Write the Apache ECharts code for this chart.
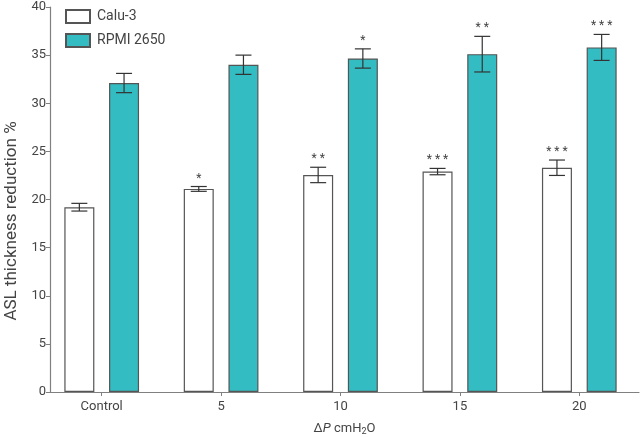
<!DOCTYPE html>
<html>
<head>
<meta charset="utf-8">
<script src="https://cdn.jsdelivr.net/npm/echarts@6/dist/echarts.min.js"></script>
<style>
  html, body { margin: 0; padding: 0; background: #fff; }
  #chart { width: 640px; height: 437px; }
</style>
</head>
<body>
<div id="chart"></div>
<script>
// data
const categories = ["Control", "5", "10", "15", "20"];
const caluValues = [19.2, 21.1, 22.55, 22.9, 23.3];
const caluErrors = [0.4, 0.25, 0.8, 0.33, 0.8];
const caluStars = ["", "*", "**", "***", "***"];
const rpmiValues = [32.1, 34.0, 34.65, 35.1, 35.8];
const rpmiErrors = [1.0, 1.0, 1.0, 1.85, 1.35];
const rpmiStars = ["", "", "*", "**", "***"];
const yTicks = [0, 5, 10, 15, 20, 25, 30, 35, 40];

const FONT = "Roboto";
const BAR_W = 30;      // px
const BAR_GAP = 0.49;  // gap between the two bars, share of bar width

const idx = categories.map((c, i) => i);

// error bars + significance stars, side = -1 (Calu-3) or +1 (RPMI)
function errorSeries(values, errors, stars, side) {
  return {
    type: "custom",
    z: 5,
    data: values.map((v, i) => [i, v, errors[i], stars[i]]),
    encode: { x: 0, y: 1 },
    renderItem: (params, api) => {
      const i = api.value(0);
      const v = api.value(1);
      const e = api.value(2);
      const off = side * (BAR_W + BAR_W * BAR_GAP) / 2;
      const hi = api.coord([i, v + e]);
      const lo = api.coord([i, v - e]);
      const x = hi[0] + off;
      const cap = 8;
      const st = { stroke: "#333", lineWidth: 1.2 };
      const kids = [
        { type: "line", shape: { x1: x, y1: hi[1], x2: x, y2: lo[1] }, style: st },
        { type: "line", shape: { x1: x - cap, y1: hi[1], x2: x + cap, y2: hi[1] }, style: st },
        { type: "line", shape: { x1: x - cap, y1: lo[1], x2: x + cap, y2: lo[1] }, style: st }
      ];
      const label = stars[i];
      if (label) {
        kids.push({
          type: "text",
          style: {
            x: x, y: hi[1] - 2,
            text: label.split("").join(" "),
            fill: "#444",
            font: "12px " + FONT,
            textAlign: "center",
            textVerticalAlign: "bottom"
          }
        });
      }
      return { type: "group", children: kids };
    }
  };
}

const chart = echarts.init(document.getElementById("chart"));
chart.setOption({
  animation: false,
  textStyle: { fontFamily: FONT },
  grid: { left: 50, right: 1, top: 7, bottom: 45, outerBoundsMode: "none", containLabel: false },
  legend: {
    orient: "vertical",
    left: 60,
    top: 4,
    itemWidth: 24,
    itemHeight: 13,
    itemGap: 9,
    icon: "rect",
    textStyle: { fontSize: 14, color: "#444", fontFamily: FONT, padding: [0, 0, 0, 2] },
    data: ["Calu-3", "RPMI 2650"]
  },
  xAxis: {
    type: "value",
    min: -0.433,
    max: 4.5,
    splitLine: { show: false },
    axisLine: { show: true, onZero: false, lineStyle: { color: "#808080", width: 1.2 } },
    axisTick: { show: true, customValues: idx, length: 4, lineStyle: { color: "#808080" } },
    axisLabel: {
      customValues: idx,
      formatter: (v) => categories[Math.round(v)],
      fontSize: 13, color: "#444", margin: 8
    },
    name: "{d|Δ}{i|P}{n| cmH}{s|2}{n|O}",
    nameLocation: "middle",
    nameGap: 29,
    nameTextStyle: {
      color: "#444",
      rich: {
        d: { fontSize: 13, color: "#444" },
        i: { fontSize: 13, color: "#444", fontStyle: "italic" },
        n: { fontSize: 13, color: "#444" },
        s: { fontSize: 9, color: "#444", verticalAlign: "bottom", padding: [6, 0, 0, 0] }
      }
    }
  },
  yAxis: {
    type: "value",
    min: yTicks[0],
    max: yTicks[yTicks.length - 1],
    interval: 5,
    splitLine: { show: false },
    axisLine: { show: true, onZero: false, lineStyle: { color: "#808080", width: 1.2 } },
    axisTick: { show: true, length: 4, lineStyle: { color: "#808080" } },
    axisLabel: { fontSize: 13, color: "#444", margin: 4 }
  },
  graphic: [{
    type: "text",
    x: 12,
    y: 221,
    rotation: Math.PI / 2,
    style: {
      text: "ASL thickness reduction %",
      fill: "#444",
      font: "17px " + FONT,
      textAlign: "center",
      textVerticalAlign: "middle"
    }
  }],
  series: [
    {
      name: "Calu-3",
      type: "bar",
      data: caluValues.map((v, i) => [i, v]),
      barWidth: BAR_W,
      barGap: (BAR_GAP * 100) + "%",
      itemStyle: { color: "#ffffff", borderColor: "#555", borderWidth: 1.2 }
    },
    {
      name: "RPMI 2650",
      type: "bar",
      data: rpmiValues.map((v, i) => [i, v]),
      barWidth: BAR_W,
      itemStyle: { color: "#33bcc2", borderColor: "#555", borderWidth: 1.2 }
    },
    errorSeries(caluValues, caluErrors, caluStars, -1),
    errorSeries(rpmiValues, rpmiErrors, rpmiStars, 1)
  ]
});
</script>
</body>
</html>
